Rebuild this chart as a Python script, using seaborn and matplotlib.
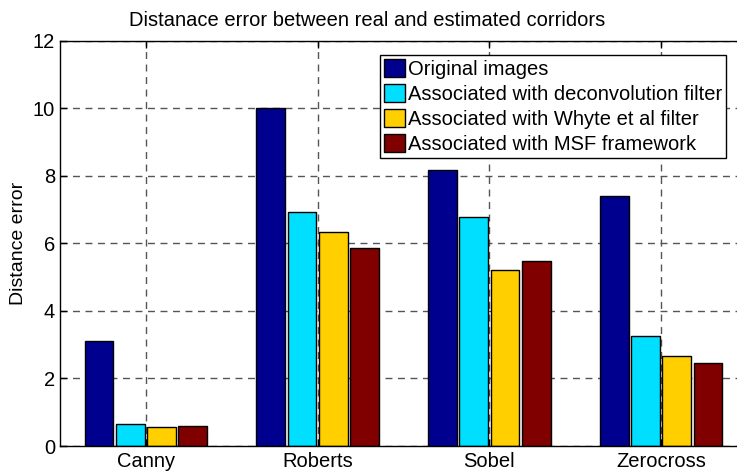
import matplotlib
matplotlib.use("Agg")
import matplotlib.pyplot as plt
import seaborn as sns
import pandas as pd

detectors = ["Canny", "Roberts", "Sobel", "Zerocross"]
series = [
    "Original images",
    "Associated with deconvolution filter",
    "Associated with Whyte et al filter",
    "Associated with MSF framework",
]
original = [3.12, 10.0, 8.16, 7.41]
deconvolution = [0.65, 6.94, 6.77, 3.25]
whyte = [0.56, 6.34, 5.21, 2.66]
msf = [0.59, 5.87, 5.48, 2.45]
colors = ["#00008F", "#00DFFF", "#FFCF00", "#800000"]

rows = []
for name, vals in zip(series, [original, deconvolution, whyte, msf]):
    for d, v in zip(detectors, vals):
        rows.append({"detector": d, "method": name, "error": v})
df = pd.DataFrame(rows)

sns.set_style("white")
plt.rcParams["font.family"] = ["Liberation Sans", "DejaVu Sans"]
plt.rcParams.update({"text.color": "black", "axes.labelcolor": "black",
                     "xtick.color": "black", "ytick.color": "black"})

fig = plt.figure(figsize=(7.37, 4.72), dpi=100)
ax = fig.add_axes([60 / 737, 26 / 472, 687 / 737, 405.3 / 472])

sns.barplot(data=df, x="detector", y="error", hue="method", order=detectors,
            hue_order=series, palette=colors, width=0.728, gap=0.08,
            edgecolor="black", linewidth=1.0, saturation=1, ax=ax, legend=False)

ax.set_xlim(-0.5, 3.5)
ax.set_ylim(0, 12)
ax.set_yticks(range(0, 13, 2))
ax.set_xlabel("")
ax.set_ylabel("Distance error", fontsize=14)
ax.set_axisbelow(True)
ax.grid(True, linestyle=(0, (5, 4)), color="#555555", linewidth=1.0)
for s in ax.spines.values():
    s.set_color("black")
    s.set_linewidth(1.0)
ax.tick_params(axis="both", direction="in", length=5, width=1, labelsize=14.5,
               top=True, right=True, bottom=True, left=True, color="black",
               labelcolor="black")
ax.tick_params(axis="x", pad=4)

handles = [plt.Rectangle((0, 0), 1, 1, facecolor=c, edgecolor="black", linewidth=1.0)
           for c in colors]
leg = fig.legend(handles, series, loc="upper left",
                 bbox_to_anchor=(380 / 737, 1 - 55 / 472), fontsize=14.5,
                 frameon=True, fancybox=False, edgecolor="black", framealpha=1,
                 borderpad=0.2, labelspacing=0.26, handlelength=1.05,
                 handleheight=1.0, handletextpad=0.15, borderaxespad=0)
leg.get_frame().set_linewidth(1.0)
for t in leg.get_texts():
    t.set_color("black")

fig.text(367 / 737, 1 - 20 / 472, "Distanace error between real and estimated corridors",
         ha="center", va="center", fontsize=14.5, color="black")

fig.savefig("out.png", dpi=100)
